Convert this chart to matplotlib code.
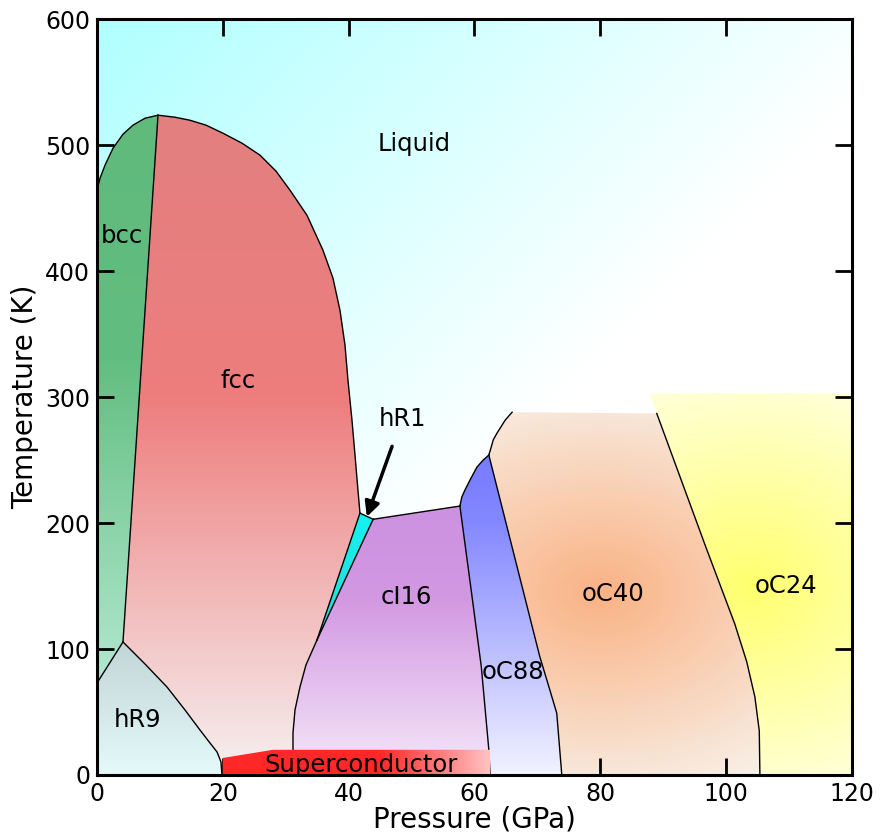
#!/usr/bin/env python3
"""
Phase diagram of lithium (pressure vs temperature)
"""

import numpy as np
import matplotlib.pyplot as plt
from matplotlib.patches import Polygon

# phase boundaries as (pressure GPa, temperature K)
bcc_liquid = [(0, 464.3), (0.48, 473.8), (1.27, 484.1), (2.54, 497.6), (4.13, 508.7),
              (5.72, 515.9), (7.63, 521.4), (9.7, 523.8)]
bcc_fcc = [(9.7, 523.8), (4.13, 105.6)]
bcc_hr9 = [(4.13, 105.6), (0, 73)]
fcc_liquid = [(9.7, 523.8), (12.4, 522.2), (14.78, 519.8), (17.33, 515.9), (20.03, 509.5),
              (23.05, 501.6), (25.91, 492.1), (28.46, 479.4), (30.68, 464.3), (33.38, 444.4),
              (35.92, 416.7), (37.52, 394.4), (38.63, 369.0), (39.43, 341.3), (39.9, 313.5),
              (40.54, 281.7), (41.02, 254.0), (41.49, 226.2), (41.81, 207.9)]
hr9_fcc = [(4.13, 105.6), (7.63, 88.1), (11.13, 69.8), (13.99, 51.6), (16.37, 35.7),
           (17.96, 25.4), (19.08, 18.3), (19.71, 10.3), (19.87, 0)]
fcc_hr1 = [(41.81, 207.9), (34.97, 107.1)]
hr1_liquid = [(41.81, 207.9), (43.9, 203)]
hr1_ci16 = [(43.9, 203), (34.97, 107.1)]
fcc_ci16 = [(34.97, 107.1), (33.22, 87.3), (32.27, 69.8), (31.48, 51.6), (31.16, 33.3), (31.16, 0)]
ci16_liquid = [(43.9, 203), (57.7, 213.5)]
ci16_oc88 = [(57.7, 213.5), (59.7, 139), (61.1, 86), (62.3, 20), (62.5, 0)]
oc88_liquid = [(57.7, 213.5), (58.0, 220.6), (58.5, 226.2), (59.3, 234.1), (60.4, 244.4),
               (61.4, 250), (62.3, 254)]
oc88_oc40 = [(62.3, 254), (70.4, 94), (72.0, 67.5), (73.1, 49), (73.9, 0)]
oc40_liquid = [(62.3, 254), (62.6, 259), (63.0, 266), (63.6, 271.4), (64.9, 281.7), (66, 288)]
oc40_top = [(66, 288), (89, 287)]
oc40_oc24 = [(89, 287), (92.9, 234), (96.8, 181), (101.4, 120), (103.3, 90), (104.6, 62),
             (105.3, 35), (105.4, 0)]
oc24_top = [(89, 287), (87.9, 303), (120, 303)]
supercond = [(20, 0), (20, 13.5), (28, 20), (62.5, 20), (62.5, 0)]

# labels: (text, pressure, temperature)
labels = [('Liquid', 50.4, 501), ('bcc', 4.0, 428), ('fcc', 22.4, 313),
          ('cI16', 49.1, 141), ('oC88', 66.1, 82), ('oC40', 82.0, 144),
          ('oC24', 109.5, 150), ('hR9', 6.5, 44), ('Superconductor', 42.0, 8)]

P_MAX, T_MAX = 120, 600
grid_P, grid_T = np.meshgrid(np.linspace(0, P_MAX, 600), np.linspace(0, T_MAX, 600))


def rgb(c):
    return np.array(c, dtype=float) / 255.0


def lerp_img(t, c0, c1):
    t = np.clip(t, 0, 1)[..., None]
    return rgb(c0) * (1 - t) + rgb(c1) * t


def vgrad(stops, coord=None):
    """stops: list of (value, colour) with increasing value"""
    coord = grid_T if coord is None else coord
    xs = [s[0] for s in stops]
    cols = np.array([rgb(s[1]) for s in stops])
    return np.stack([np.interp(coord, xs, cols[:, i]) for i in range(3)], axis=-1)


def radial(center, radii, c_in, c_out):
    d = np.sqrt(((grid_P - center[0]) / radii[0]) ** 2 + ((grid_T - center[1]) / radii[1]) ** 2)
    return lerp_img(d, c_in, c_out)


def shade(ax, verts, img, z=1):
    poly = Polygon(verts, closed=True, facecolor='none', edgecolor='none')
    ax.add_patch(poly)
    im = ax.imshow(img, extent=[0, P_MAX, 0, T_MAX], origin='lower', aspect='auto',
                   zorder=z, interpolation='bilinear')
    im.set_clip_path(poly)


fig = plt.figure(figsize=(8.9, 8.36), dpi=100)
ax = fig.add_axes([0.109, 0.073, 0.848, 0.904])

# liquid background: diagonal cyan -> white
t_liq = (grid_P * 6.29 + (T_MAX - grid_T) * 1.26) / 844.0
ax.imshow(lerp_img(t_liq, (175, 255, 255), (255, 255, 255)), extent=[0, P_MAX, 0, T_MAX],
          origin='lower', aspect='auto', zorder=0, interpolation='bilinear')

# build phase polygons from boundaries
bcc = bcc_liquid + bcc_fcc[1:] + bcc_hr9[1:]
fcc = fcc_liquid + fcc_hr1[1:] + fcc_ci16[1:] + hr9_fcc[::-1] + bcc_fcc[::-1][1:-1]
hr9 = [(0, 0)] + bcc_hr9[::-1] + hr9_fcc[1:]
hr1 = hr1_liquid + hr1_ci16[1:]
ci16 = hr1_ci16[::-1] + ci16_liquid[1:] + ci16_oc88[1:] + fcc_ci16[::-1]
oc88 = oc88_liquid + oc88_oc40[1:] + ci16_oc88[::-1]
oc40 = oc40_liquid + oc40_top[1:] + oc40_oc24[1:] + oc88_oc40[::-1][:-1]
oc24 = oc24_top + [(120, 0)] + oc40_oc24[::-1]

shade(ax, bcc, vgrad([(73, (178, 232, 208)), (330, (98, 190, 128)), (530, (95, 186, 124))]))
shade(ax, fcc, vgrad([(0, (246, 240, 240)), (300, (238, 125, 125)), (530, (226, 128, 128))]))
shade(ax, hr9, vgrad([(0, (228, 250, 250)), (106, (194, 212, 214))]))
shade(ax, hr1, vgrad([(107, (45, 215, 210)), (208, (20, 242, 242))]))
shade(ax, ci16, vgrad([(0, (246, 232, 250)), (140, (210, 152, 226)), (215, (204, 145, 224))]))
shade(ax, oc88, vgrad([(0, (242, 242, 255)), (200, (132, 136, 255)), (256, (118, 122, 255))]))
shade(ax, oc40, radial((80, 145), (45, 165), (250, 178, 132), (248, 238, 228)))
shade(ax, oc24, radial((104, 150), (40, 175), (255, 255, 110), (255, 255, 222)))

# phase boundaries
for line in [bcc_liquid, bcc_fcc, bcc_hr9, fcc_liquid, hr9_fcc, fcc_hr1, hr1_liquid,
             hr1_ci16, fcc_ci16, ci16_liquid, ci16_oc88, oc88_liquid, oc88_oc40,
             oc40_liquid, oc40_oc24]:
    xs, ys = zip(*line)
    ax.plot(xs, ys, color='k', lw=1.0, zorder=1.5, solid_joinstyle='round')

# superconducting region, red fading to pink
shade(ax, supercond, vgrad([(45, (255, 40, 40)), (62.5, (255, 195, 195))], coord=grid_P), z=1.6)

for txt, p, t in labels:
    ax.text(p, t, txt, fontsize=17.5, ha='center', va='center', zorder=2)

ax.annotate('hR1', xy=(42.9, 205), xytext=(48.5, 283), fontsize=17.5, ha='center', va='center',
            zorder=2, arrowprops=dict(arrowstyle='-|>', color='k', lw=2.5, mutation_scale=22,
                                      shrinkA=10, shrinkB=0))

ax.set_xlim(0, P_MAX)
ax.set_ylim(0, T_MAX)
ax.set_xticks(range(0, 121, 20))
ax.set_yticks(range(0, 601, 100))
ax.tick_params(direction='in', length=12, width=2, top=True, right=True, labelsize=17, pad=5)
for s in ax.spines.values():
    s.set_linewidth(2.2)
ax.set_xlabel('Pressure (GPa)', fontsize=20, labelpad=0)
ax.set_ylabel('Temperature (K)', fontsize=20, labelpad=4)

plt.savefig('out.png', dpi=100)
